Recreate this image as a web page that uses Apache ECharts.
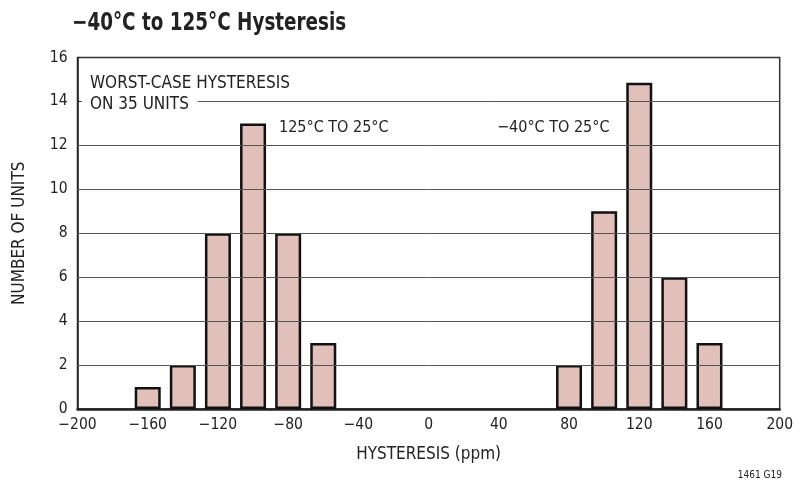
<!DOCTYPE html>
<html>
<head>
<meta charset="utf-8">
<script src="https://cdn.jsdelivr.net/npm/echarts@6/dist/echarts.min.js"></script>
<style>
  html, body { margin: 0; padding: 0; background: #fff; }
  #chart { width: 796px; height: 483px; }
</style>
</head>
<body>
<div id="chart"></div>
<script>
// histogram data
const leftCenters = [-160, -140, -120, -100, -80, -60];
const leftCounts = [1, 2, 8, 13, 8, 3];
const rightCenters = [80, 100, 120, 140, 160];
const rightCounts = [2, 9, 14.85, 6, 3];

const xTicks = [-200, -160, -120, -80, -40, 0, 40, 80, 120, 160, 200];
const yTicks = [0, 2, 4, 6, 8, 10, 12, 14, 16];
const fullGridLines = [2, 4, 6, 8, 10, 12];
const partialGridLine = { y: 14, from: -131.5, to: 200 };

const font = '"DejaVu Sans Condensed", "Liberation Sans", sans-serif';

const barData = leftCenters.map((x, i) => [x, leftCounts[i]])
  .concat(rightCenters.map((x, i) => [x, rightCounts[i]]));

const lines = fullGridLines.map(v => ({ yAxis: v }));
lines.push([
  { coord: [partialGridLine.from, partialGridLine.y] },
  { coord: [partialGridLine.to, partialGridLine.y] }
]);

const minus = v => String(v).replace('-', '\u2212');

const chart = echarts.init(document.getElementById('chart'));
chart.setOption({
  animation: false,
  textStyle: { fontFamily: font },
  grid: {
    left: 77.5, right: 14, top: 57.5, bottom: 74,
    show: true, borderColor: '#333', borderWidth: 1.5, backgroundColor: 'transparent'
  },
  xAxis: {
    type: 'value',
    min: xTicks[0], max: xTicks[xTicks.length - 1], interval: 40,
    name: 'HYSTERESIS (ppm)',
    nameLocation: 'middle',
    nameGap: 37,
    nameTextStyle: { fontFamily: font, fontSize: 17, color: '#222' },
    axisLine: { onZero: false, lineStyle: { color: '#222', width: 2.5 } },
    axisTick: { show: false },
    splitLine: { show: false },
    axisLabel: { fontFamily: font, fontSize: 15.5, color: '#222', margin: 8, formatter: minus }
  },
  yAxis: {
    type: 'value',
    min: yTicks[0], max: yTicks[yTicks.length - 1], interval: 2,
    name: 'NUMBER OF UNITS',
    nameLocation: 'middle',
    nameGap: 49,
    nameTextStyle: { fontFamily: font, fontSize: 17, color: '#222' },
    axisLine: { show: true, onZero: false, lineStyle: { color: '#222', width: 1.5 } },
    axisTick: { show: true, inside: true, length: 4, lineStyle: { color: '#222' } },
    splitLine: { show: false },
    axisLabel: { fontFamily: font, fontSize: 15.5, color: '#222', margin: 10 }
  },
  series: [{
    type: 'bar',
    data: barData,
    barWidth: 26,
    itemStyle: { color: '#e2c0ba', borderColor: '#111', borderWidth: 2.5 },
    emphasis: { disabled: true },
    silent: true,
    markLine: {
      silent: true,
      symbol: 'none',
      label: { show: false },
      lineStyle: { color: '#555', width: 1, type: 'solid' },
      emphasis: { disabled: true },
      data: lines
    }
  }],
  graphic: [
    { type: 'text', x: 72, y: 12, scaleX: 0.85,
      style: { text: '\u221240\u00b0C to 125\u00b0C Hysteresis', font: 'bold 24px ' + font, fill: '#222' } },
    { type: 'text', left: 90, top: 73,
      style: { text: 'WORST-CASE HYSTERESIS\nON 35 UNITS', font: '17px ' + font, fill: '#222', lineHeight: 21 } },
    { type: 'text', left: 279, top: 120,
      style: { text: '125\u00b0C TO 25\u00b0C', font: '16px ' + font, fill: '#222' } },
    { type: 'text', left: 497, top: 120,
      style: { text: '\u221240\u00b0C TO 25\u00b0C', font: '16px ' + font, fill: '#222' } },
    { type: 'text', right: 14, top: 470,
      style: { text: '1461 G19', font: '10px ' + font, fill: '#222' } }
  ]
});
</script>
</body>
</html>
